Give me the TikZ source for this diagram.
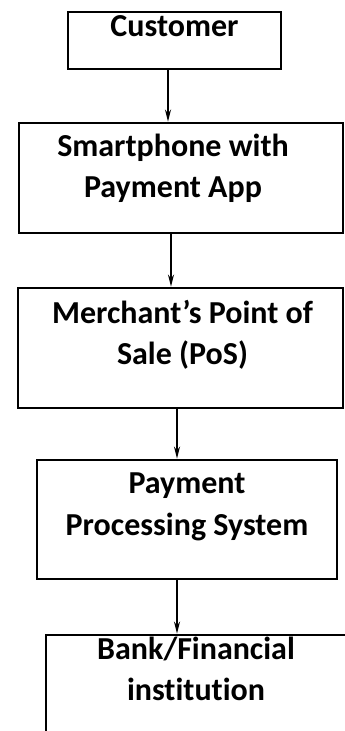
\documentclass[tikz,border=0pt]{standalone}
\usepackage{fontspec}
\setmainfont{Carlito}[Ligatures=NoCommon]
\usetikzlibrary{positioning,arrows.meta}

\begin{document}
\begin{tikzpicture}[x=0.5pt,y=-0.5pt,
  flow_box/.style={rectangle,draw,line width=1.4pt,inner sep=0pt},
  flow_text/.style={align=center,inner sep=0pt,font=\bfseries\fontsize{16}{20.75}\selectfont},
  flow_arrow/.style={line width=0.9pt,-{Stealth[length=6pt,width=3pt]}}]

\useasboundingbox (0,0) rectangle (344,731);

\node[flow_box,minimum width=106.5pt,minimum height=28.5pt] (customer) at (174.5,40.5) {};
\node[flow_box,minimum width=162pt,minimum height=55pt] (phone) at (181,178) {};
\node[flow_box,minimum width=162.5pt,minimum height=60pt] (pos) at (180.5,348) {};
\node[flow_box,minimum width=150pt,minimum height=59.5pt] (processing) at (187,519.5) {};
\node[flow_box,minimum width=157pt,minimum height=62.5pt] (bank) at (203,697.5) {};

\node[flow_text,below=2.5pt of customer.north] (customer_txt) {Customer};
\node[flow_text,below=6pt of phone.north,xshift=-4pt] (phone_txt) {Smartphone with\\Payment App};
\node[flow_text,below=6.5pt of pos.north,xshift=1pt] (pos_txt) {Merchant’s Point of\\Sale (PoS)};
\node[flow_text,below=7pt of processing.north] (processing_txt) {Payment\\Processing System};
\node[flow_text,below=1.5pt of bank.north,xshift=-3.5pt] (bank_txt) {Bank/Financial\\institution};

\draw[flow_arrow] ([xshift=-3.25pt]customer.south) -- ([xshift=-3.25pt]customer.south |- phone.north);
\draw[flow_arrow] ([xshift=-5pt]phone.south) -- ([xshift=-5pt]phone.south |- pos.north);
\draw[flow_arrow] ([xshift=-1.75pt]pos.south) -- ([xshift=-1.75pt]pos.south |- processing.north);
\draw[flow_arrow] ([xshift=-5pt]processing.south) -- ([xshift=-5pt]processing.south |- bank.north);

\end{tikzpicture}
\end{document}
